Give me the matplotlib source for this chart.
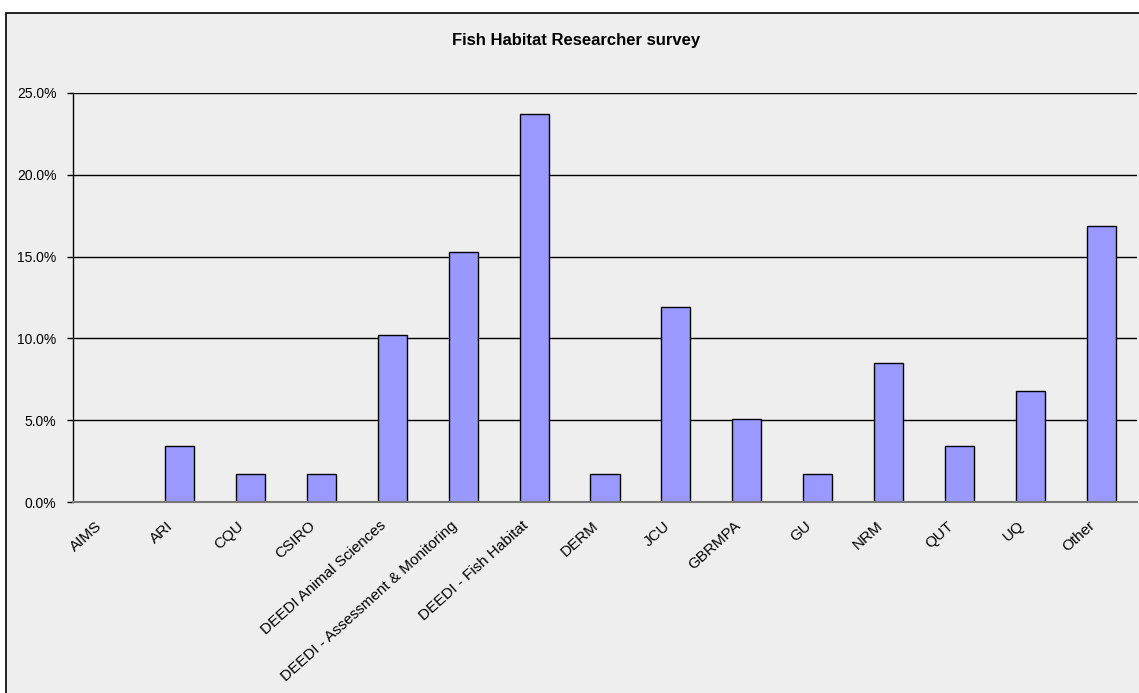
import matplotlib
matplotlib.use('Agg')
import matplotlib.pyplot as plt
import matplotlib.transforms as mtransforms
from matplotlib.patches import Rectangle
from matplotlib.ticker import FuncFormatter

plt.rcParams['font.family'] = ['Liberation Sans', 'DejaVu Sans']

categories = ['AIMS', 'ARI', 'CQU', 'CSIRO', 'DEEDI Animal Sciences',
              'DEEDI - Assessment & Monitoring', 'DEEDI - Fish Habitat', 'DERM',
              'JCU', 'GBRMPA', 'GU', 'NRM', 'QUT', 'UQ', 'Other']
percent = [0.0, 3.4, 1.7, 1.7, 10.2, 15.3, 23.7, 1.7, 11.9, 5.1, 1.7, 8.5, 3.4, 6.8, 16.9]
title = 'Fish Habitat Researcher survey'

W, H = 1139, 693
bg = '#eeeeee'
fig = plt.figure(figsize=(W / 100, H / 100), dpi=100, facecolor='white')

# outer chart frame, runs off the right and bottom edges
fig.patches.append(Rectangle((6 / W, -0.1), 1.2, (H - 13) / H + 0.1,
                             transform=fig.transFigure, facecolor=bg,
                             edgecolor='black', linewidth=1.2, zorder=-5))

ax = fig.add_axes([73 / W, 1 - 502 / H, (1137 - 73) / W, (502 - 93) / H])
ax.set_facecolor(bg)

x = range(len(categories))
ax.bar(x, percent, width=0.41, color='#9999ff', edgecolor='black',
       linewidth=1.0, zorder=3)

ax.set_xlim(-0.5, len(categories) - 0.5)
ax.set_ylim(0, 25)
ax.set_yticks([0, 5, 10, 15, 20, 25])
ax.yaxis.set_major_formatter(FuncFormatter(lambda v, p: f'{v:.1f}%'))
ax.grid(axis='y', color='black', linewidth=1.0, zorder=1)
ax.set_axisbelow(True)

for s in ['top', 'right']:
    ax.spines[s].set_visible(False)
ax.spines['left'].set_color('black')
ax.spines['left'].set_linewidth(1.0)
ax.spines['bottom'].set_color('#777777')
ax.spines['bottom'].set_linewidth(1.5)
ax.spines['bottom'].set_zorder(4)

ax.tick_params(axis='y', length=4, width=1, labelsize=10, pad=8)
ax.tick_params(axis='x', length=0, labelsize=11, pad=12)
ax.set_xticks(list(x))
ax.set_xticklabels(categories, rotation=42, ha='right', rotation_mode='anchor')
shift = mtransforms.ScaledTranslation(-13 / 100, 0, fig.dpi_scale_trans)
for lab in ax.get_xticklabels():
    lab.set_transform(lab.get_transform() + shift)

fig.text(576 / W, 1 - 40 / H, title, ha='center', va='center',
         fontsize=12, fontweight='bold')

fig.savefig('out.png', dpi=100, facecolor='white')
